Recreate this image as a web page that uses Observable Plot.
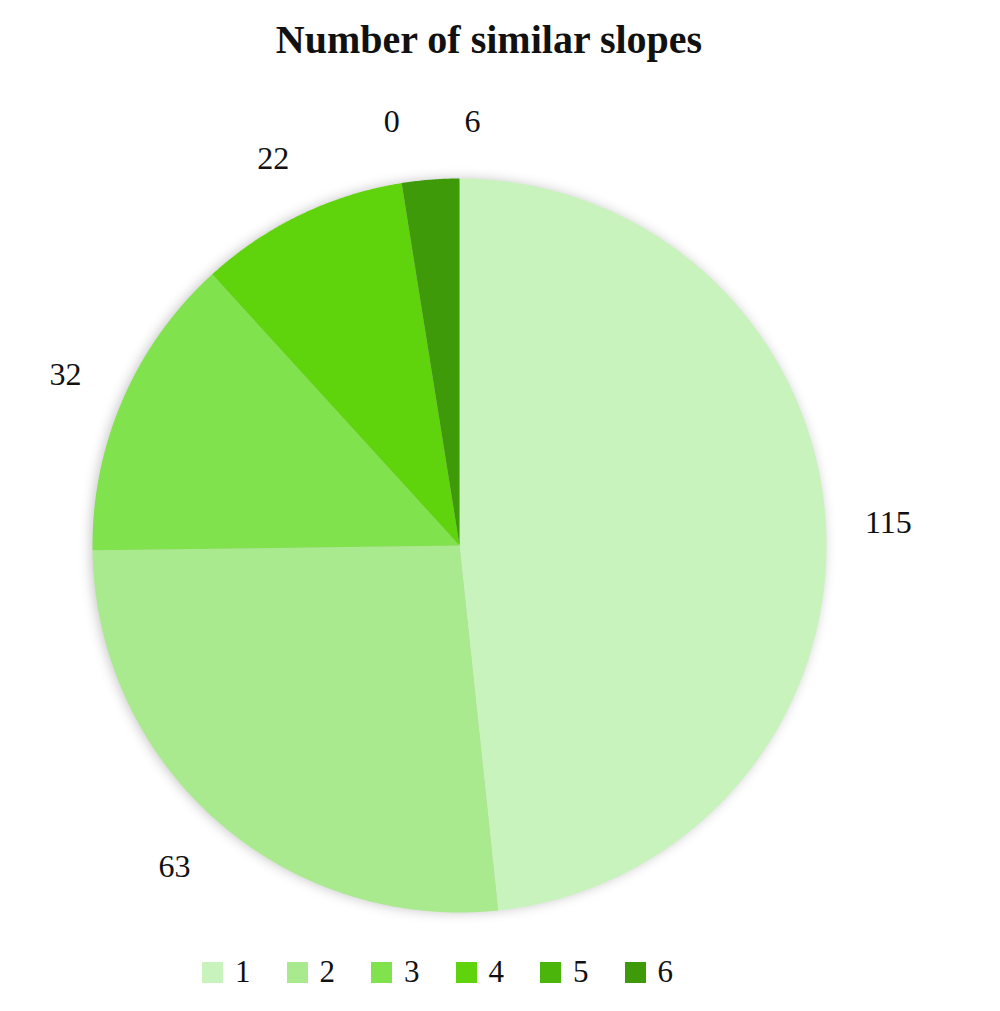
<!DOCTYPE html>
<html><head><meta charset="utf-8">
<script src="https://cdn.jsdelivr.net/npm/d3@7"></script>
<script src="https://cdn.jsdelivr.net/npm/@observablehq/plot@0.6"></script>
<style>
body{margin:0;background:#fff;font-family:"Liberation Serif",serif}
#wrap{position:relative;width:1000px;height:1011px;overflow:hidden}
#title{position:absolute;top:16px;left:0;width:978px;text-align:center;font-weight:bold;font-size:40px;line-height:48px;color:#111;font-family:"Liberation Serif",serif}
#chart{position:absolute;top:0;left:0}
#chart g[aria-label="geo"]{filter:drop-shadow(-2px 0 6px rgba(0,0,0,0.22))}
#legend{position:absolute;top:952px;left:202px;height:40px;display:flex;align-items:center;font-size:31px;color:#111}
.item{display:flex;align-items:center;margin-right:36px}
.item:last-child{margin-right:0}
.sw{width:21px;height:21px;margin-right:12px}
</style></head>
<body>
<div id="wrap">
  <div id="chart"></div>
  <div id="title">Number of similar slopes</div>
  <div id="legend"></div>
</div>
<script>
const categories = ["1", "2", "3", "4", "5", "6"];
const counts = [115, 63, 32, 22, 0, 6];
const colors = ["#c9f3bd", "#aaea8f", "#80e24c", "#5fd30b", "#4cb50c", "#3f9a0a"];

const arcs = d3.pie().sort(null).value(d => d.count)(categories.map((c, i) => ({category: c, count: counts[i]})));

function pt(a, r) { return [r * Math.sin(a), -r * Math.cos(a)]; }

const slices = arcs.map(a => {
  const ring = [[0, 0]];
  const n = Math.max(2, Math.ceil((a.endAngle - a.startAngle) / 0.005));
  for (let k = 0; k <= n; k++) ring.push(pt(a.startAngle + (a.endAngle - a.startAngle) * k / n, 1));
  ring.push([0, 0]);
  return {type: "Feature", properties: {category: a.data.category, count: a.data.count}, geometry: {type: "Polygon", coordinates: [ring]}};
});

// label positions from slice mid-angles, nudging labels that would collide
const labels = arcs.map(a => {
  const m = (a.startAngle + a.endAngle) / 2;
  const [x, y] = pt(m, 1.17);
  return {x, y, text: String(a.data.count)};
});
for (let i = 1; i < labels.length; i++) {
  const p = labels[i - 1], q = labels[i];
  if (Math.hypot(q.x - p.x, q.y - p.y) < 0.15) { q.x = p.x + 0.22; q.y = p.y; }
}

const plot = Plot.plot({
  width: 1000,
  height: 940,
  marginLeft: 92,
  marginRight: 174,
  marginTop: 178,
  marginBottom: 28,
  projection: {type: "identity", clip: false, domain: {type: "MultiPoint", coordinates: [[-1, -1], [1, 1]]}},
  color: {domain: categories, range: colors},
  style: {fontFamily: "Liberation Serif, serif", fontSize: "32px", background: "#fff", overflow: "visible"},
  marks: [
    Plot.geo(slices, {fill: d => d.properties.category, stroke: "none"}),
    Plot.text(labels, {x: "x", y: "y", text: "text", fontSize: 32, fill: "#111"})
  ]
});
document.getElementById("chart").appendChild(plot);

const legend = document.getElementById("legend");
categories.forEach((c, i) => {
  const it = document.createElement("div");
  it.className = "item";
  const sw = document.createElement("div");
  sw.className = "sw";
  sw.style.background = colors[i];
  const t = document.createElement("span");
  t.textContent = c;
  it.appendChild(sw); it.appendChild(t);
  legend.appendChild(it);
});
</script>
</body></html>
